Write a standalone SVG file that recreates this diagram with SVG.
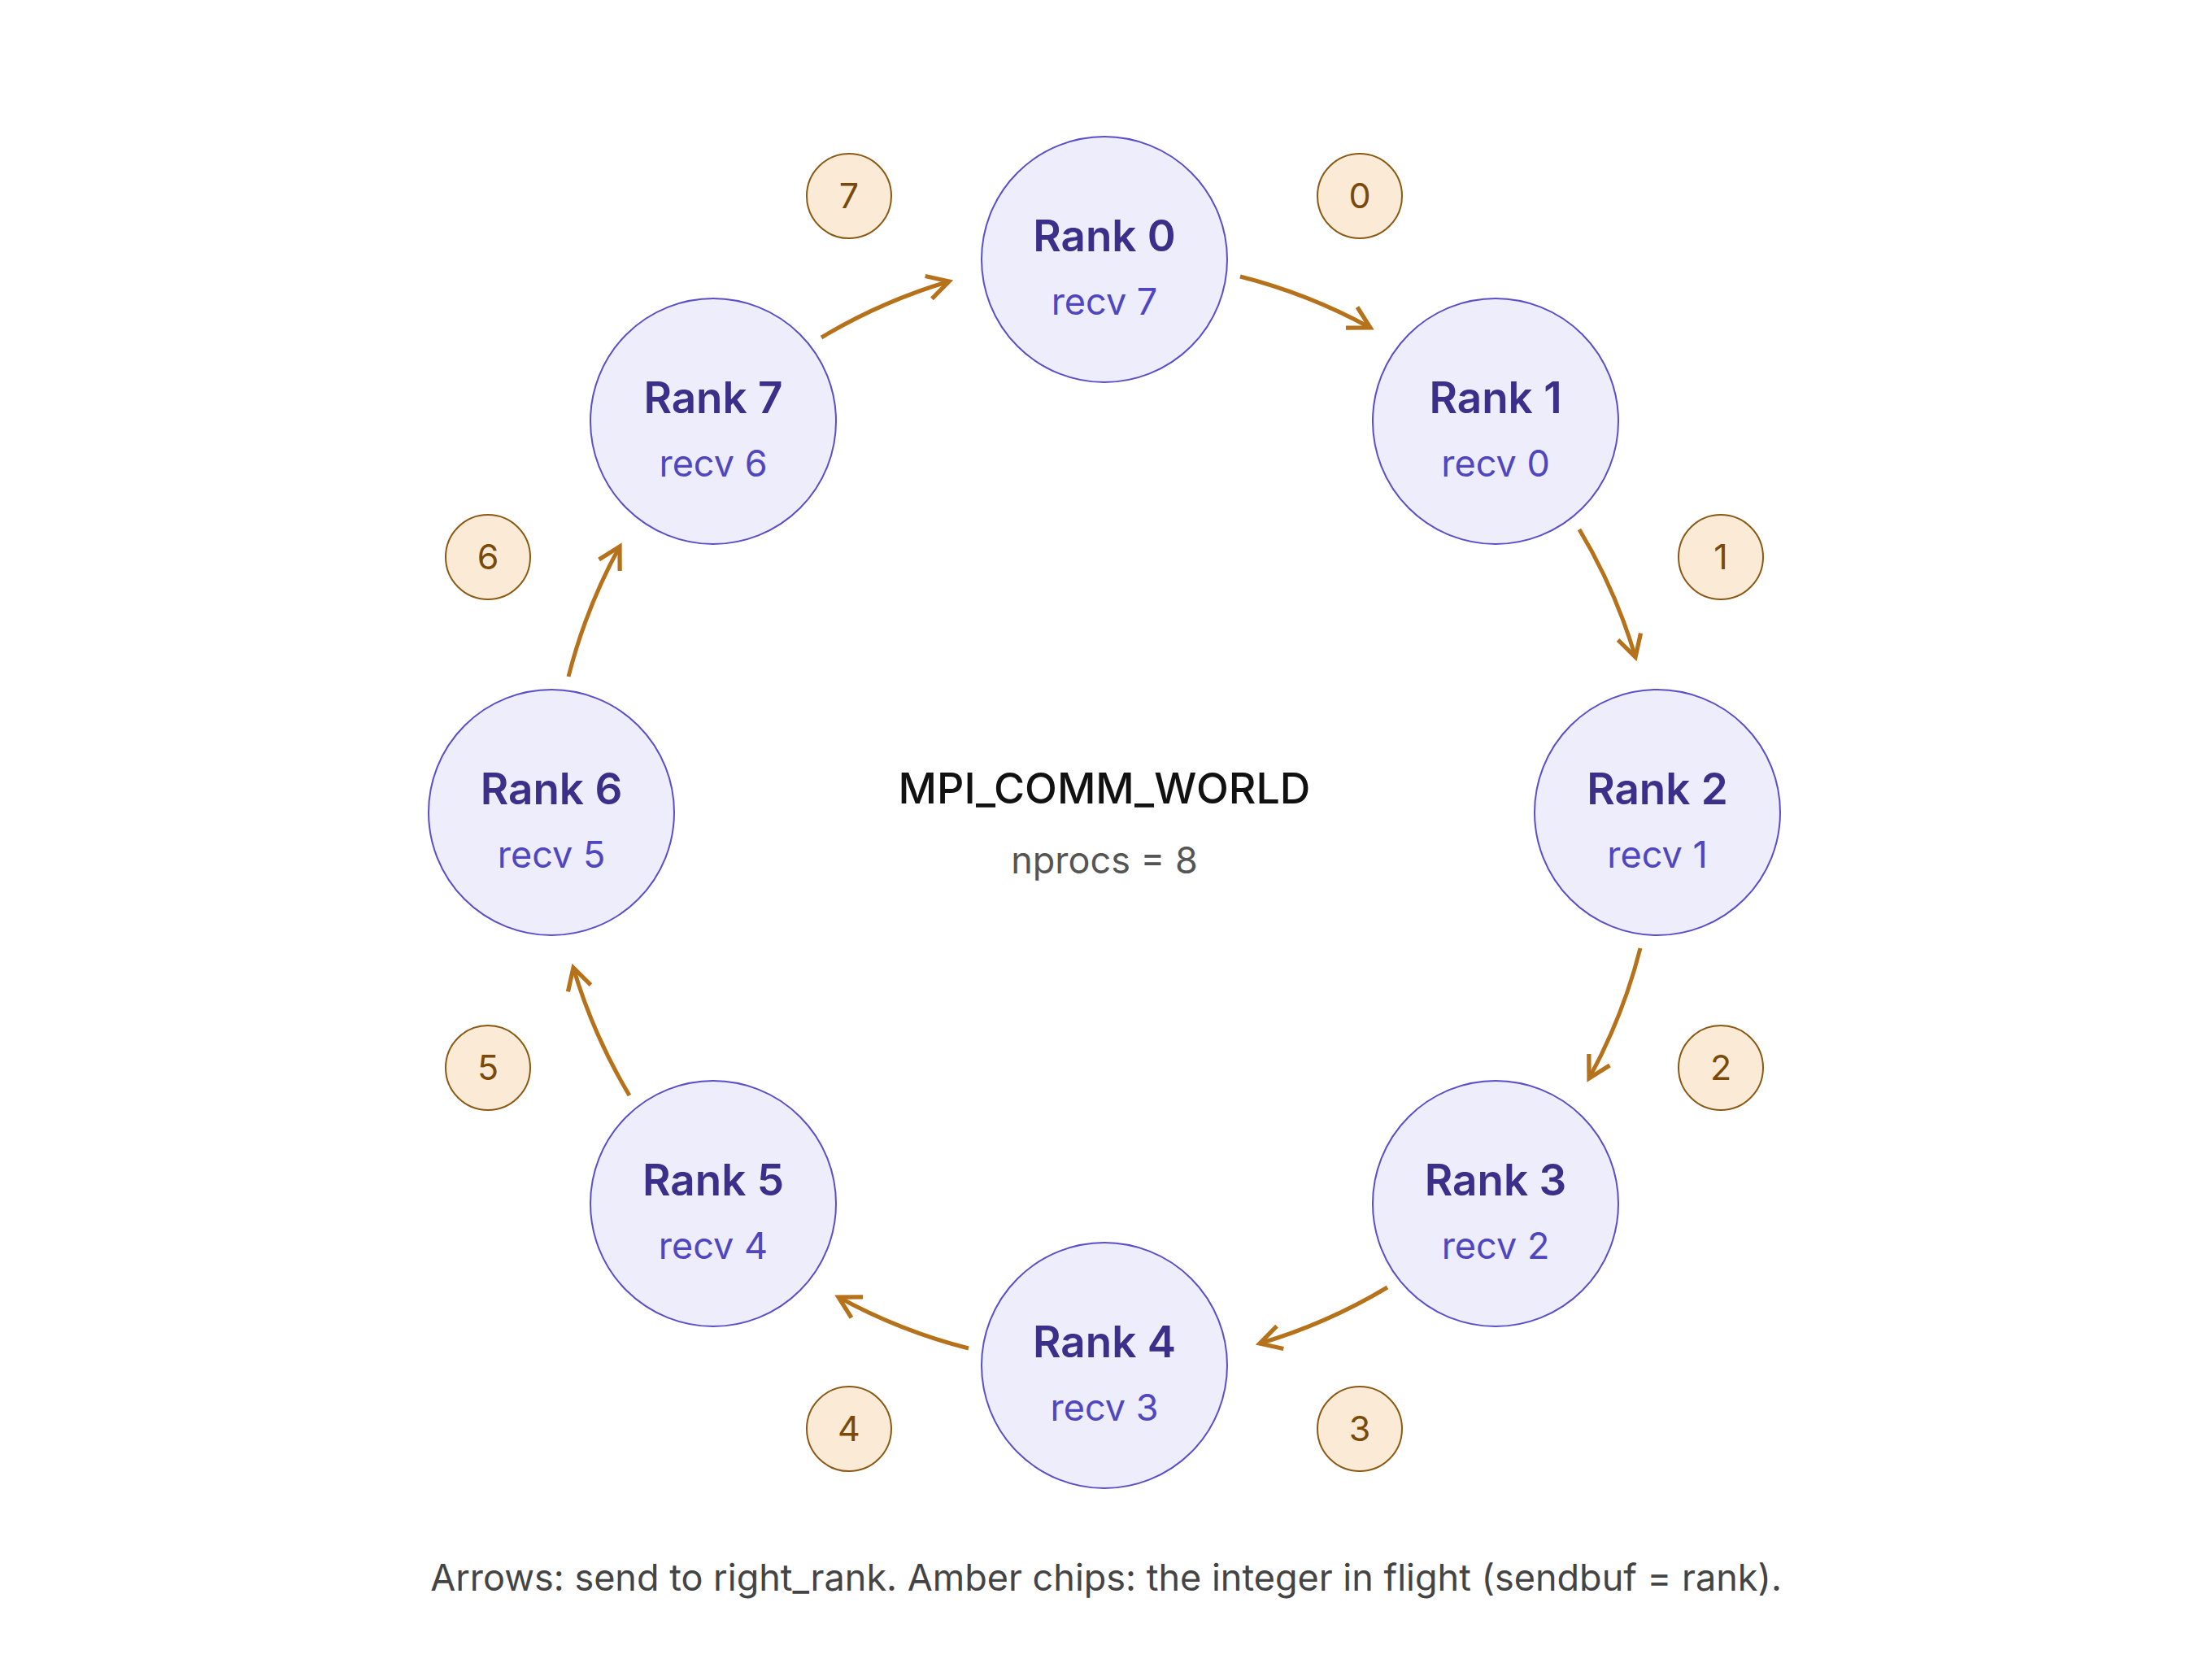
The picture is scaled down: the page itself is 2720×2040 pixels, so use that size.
<svg xmlns="http://www.w3.org/2000/svg" width="2720" height="2040" viewBox="0 0 2720 2040">
<style>
.n circle{fill:#ededfb;stroke:#5b4fc9;stroke-width:2}
.t{font-family:Inter,"Liberation Sans",sans-serif;font-size:53px;font-weight:600;fill:#3b2f8a;text-anchor:middle}
.s{font-family:Inter,"Liberation Sans",sans-serif;font-size:45px;fill:#5046c0;text-anchor:middle}
.c circle{fill:#fbebd6;stroke:#8a5a14;stroke-width:2}
.c text{font-family:Inter,"Liberation Sans",sans-serif;font-size:43px;fill:#7a4a0a;text-anchor:middle}
.e path{fill:none;stroke:#b5721a;stroke-width:5;marker-end:url(#a)}
</style>
<defs><marker id="a" viewBox="0 0 12 12" refX="10" refY="6" markerWidth="7" markerHeight="7" markerUnits="strokeWidth" orient="auto"><path d="M1,1 L10,6 L1,11" fill="none" stroke="#b5721a" stroke-width="1.8"/></marker></defs>
<rect width="2720" height="2040" fill="#fff"/>
<g class="e" id="connectors">
<path d="M1525,340 A680,680 0 0 1 1685,403"/>
<path d="M1942,651 A680,680 0 0 1 2011,808"/>
<path d="M2017,1166 A680,680 0 0 1 1954,1326"/>
<path d="M1706,1583 A680,680 0 0 1 1549,1652"/>
<path d="M1191,1658 A680,680 0 0 1 1031,1595"/>
<path d="M774,1347 A680,680 0 0 1 705,1190"/>
<path d="M699,832 A680,680 0 0 1 762,672"/>
<path d="M1010,415 A680,680 0 0 1 1167,346"/>
</g>
<g class="n" id="rank0"><circle cx="1358" cy="319" r="151"/><text class="t" x="1358" y="309">Rank 0</text><text class="s" x="1358" y="387">recv 7</text></g>
<g class="n" id="rank1"><circle cx="1839" cy="518" r="151"/><text class="t" x="1839" y="508">Rank 1</text><text class="s" x="1839" y="586">recv 0</text></g>
<g class="n" id="rank2"><circle cx="2038" cy="999" r="151"/><text class="t" x="2038" y="989">Rank 2</text><text class="s" x="2038" y="1067">recv 1</text></g>
<g class="n" id="rank3"><circle cx="1839" cy="1480" r="151"/><text class="t" x="1839" y="1470">Rank 3</text><text class="s" x="1839" y="1548">recv 2</text></g>
<g class="n" id="rank4"><circle cx="1358" cy="1679" r="151"/><text class="t" x="1358" y="1669">Rank 4</text><text class="s" x="1358" y="1747">recv 3</text></g>
<g class="n" id="rank5"><circle cx="877" cy="1480" r="151"/><text class="t" x="877" y="1470">Rank 5</text><text class="s" x="877" y="1548">recv 4</text></g>
<g class="n" id="rank6"><circle cx="678" cy="999" r="151"/><text class="t" x="678" y="989">Rank 6</text><text class="s" x="678" y="1067">recv 5</text></g>
<g class="n" id="rank7"><circle cx="877" cy="518" r="151"/><text class="t" x="877" y="508">Rank 7</text><text class="s" x="877" y="586">recv 6</text></g>
<g class="c" id="chip0"><circle cx="1672" cy="241" r="52"/><text x="1672" y="256">0</text></g>
<g class="c" id="chip1"><circle cx="2116" cy="685" r="52"/><text x="2116" y="700">1</text></g>
<g class="c" id="chip2"><circle cx="2116" cy="1313" r="52"/><text x="2116" y="1328">2</text></g>
<g class="c" id="chip3"><circle cx="1672" cy="1757" r="52"/><text x="1672" y="1772">3</text></g>
<g class="c" id="chip4"><circle cx="1044" cy="1757" r="52"/><text x="1044" y="1772">4</text></g>
<g class="c" id="chip5"><circle cx="600" cy="1313" r="52"/><text x="600" y="1328">5</text></g>
<g class="c" id="chip6"><circle cx="600" cy="685" r="52"/><text x="600" y="700">6</text></g>
<g class="c" id="chip7"><circle cx="1044" cy="241" r="52"/><text x="1044" y="256">7</text></g>
<g id="center" font-family="Inter,'Liberation Sans',sans-serif" text-anchor="middle">
<text x="1358" y="988" font-size="52" font-weight="500" fill="#111">MPI_COMM_WORLD</text>
<text x="1358" y="1074" font-size="45" fill="#555">nprocs = 8</text>
</g>
<text x="1360" y="1956" font-family="Inter,'Liberation Sans',sans-serif" font-size="45" fill="#444" text-anchor="middle">Arrows: send to right_rank. Amber chips: the integer in flight (sendbuf = rank).</text>
</svg>
